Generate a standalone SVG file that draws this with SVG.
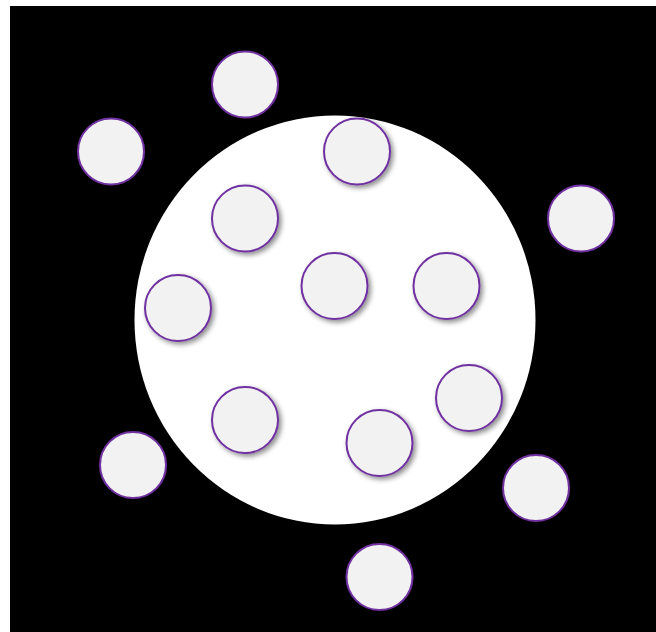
<svg xmlns="http://www.w3.org/2000/svg" width="656" height="632" viewBox="0 0 656 632">
<defs>
<filter id="sh" x="-30%" y="-30%" width="160%" height="160%">
<feDropShadow dx="2.5" dy="2.5" stdDeviation="2.5" flood-color="#000" flood-opacity="0.45"/>
</filter>
<style>
.n{fill:#F2F2F2;stroke:#7030A0;stroke-width:2;filter:url(#sh)}
</style>
</defs>
<rect width="656" height="632" fill="#fff"/>
<rect x="10" y="6" width="646" height="626" fill="#000"/>
<ellipse id="big" cx="335" cy="320" rx="200.5" ry="204.5" fill="#fff"/>
<g id="connectors"/>
<g id="n1"><circle class="n" cx="245" cy="84.5" r="33"/></g>
<g id="n2"><circle class="n" cx="111" cy="151.5" r="33"/></g>
<g id="n3"><circle class="n" cx="357" cy="151.5" r="33"/></g>
<g id="n4"><circle class="n" cx="581" cy="218.5" r="33"/></g>
<g id="n5"><circle class="n" cx="245" cy="218.5" r="33"/></g>
<g id="n6"><circle class="n" cx="178" cy="308" r="33"/></g>
<g id="n7"><circle class="n" cx="334.5" cy="286" r="33"/></g>
<g id="n8"><circle class="n" cx="446.5" cy="286" r="33"/></g>
<g id="n9"><circle class="n" cx="469" cy="398" r="33"/></g>
<g id="n10"><circle class="n" cx="245" cy="420" r="33"/></g>
<g id="n11"><circle class="n" cx="379.5" cy="443" r="33"/></g>
<g id="n12"><circle class="n" cx="133" cy="465" r="33"/></g>
<g id="n13"><circle class="n" cx="536" cy="488" r="33"/></g>
<g id="n14"><circle class="n" cx="379.5" cy="577" r="33"/></g>
</svg>
